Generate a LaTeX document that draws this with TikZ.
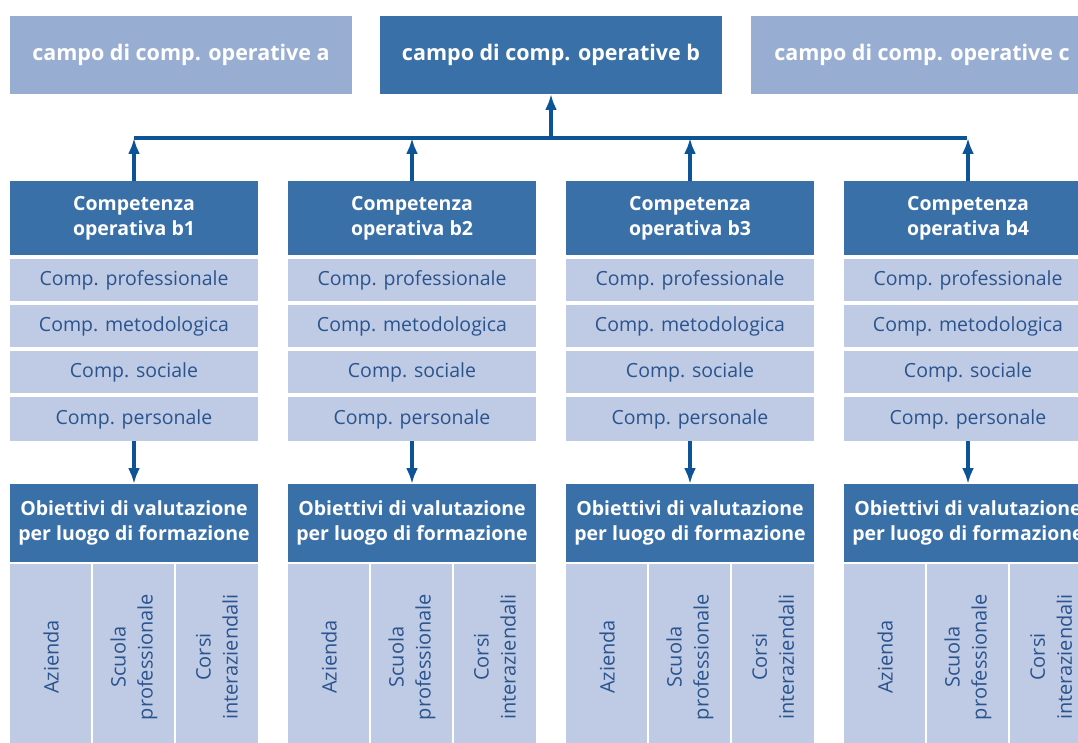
\documentclass[tikz,border=0pt]{standalone}
\usepackage{fontspec}
\setmainfont{Open Sans}
\usetikzlibrary{arrows.meta}
\definecolor{darkbox}{RGB}{58,112,168}
\definecolor{lightbox}{RGB}{152,173,210}
\definecolor{paleblue}{RGB}{191,202,228}
\definecolor{textblue}{RGB}{42,84,142}
\definecolor{arrowblue}{RGB}{12,84,150}
\tikzset{
  box/.style={inner sep=0pt, outer sep=0pt, anchor=north west, align=center},
  topdark/.style={box, fill=darkbox, text=white, font=\bfseries\fontsize{21.5}{26}\selectfont, minimum width=342pt, minimum height=78pt},
  toplight/.style={topdark, fill=lightbox},
  headbox/.style={box, fill=darkbox, text=white, font=\bfseries\fontsize{19.5}{25}\selectfont, minimum width=248pt, minimum height=74pt},
  subbox/.style={box, fill=paleblue, text=textblue, font=\fontsize{19.5}{24}\selectfont, minimum width=248pt, minimum height=42pt},
  placebox/.style={box, fill=paleblue, minimum height=200pt},
  rottext/.style={inner sep=0pt, rotate=90, text=textblue, font=\fontsize{20}{27}\selectfont, align=center},
  conn/.style={draw=arrowblue, line width=3.2pt},
  arr/.style={conn, -{Latex[length=16pt,width=12pt]}}
}
\begin{document}
\begin{tikzpicture}[x=1pt,y=-1pt]
\useasboundingbox (0,0) rectangle (1078,743);
\clip (0,0) rectangle (1078,743);
\node[toplight] (fa) at (10,16) {campo di comp. operative a};
\node[topdark] (fb) at (380,16) {campo di comp. operative b};
\node[toplight] (fc) at (751,16) {campo di comp. operative c};
\coordinate (busL) at (134,138);
\coordinate (busR) at (967,138);
\draw[conn] (busL) -- (busR);
\draw[arr] (fb.south |- busL) -- (fb.south);
\foreach \i in {1,2,3,4} {
  \pgfmathsetmacro{\xx}{10+278*(\i-1)}
  \node[headbox] (comp\i) at (\xx,181) {Competenza\\operativa b\i};
  \node[subbox] (prof\i) at (\xx,259) {Comp. professionale};
  \node[subbox] (meto\i) at (\xx,305) {Comp. metodologica};
  \node[subbox] (soc\i) at (\xx,351) {Comp. sociale};
  \node[subbox, minimum height=44pt] (pers\i) at (\xx,397) {Comp. personale};
  \node[headbox, minimum height=78pt] (obj\i) at (\xx,484) {Obiettivi di valutazione\\per luogo di formazione};
  \node[placebox, minimum width=81pt] (az\i) at (\xx,564) {};
  \node[placebox, minimum width=81pt] (sc\i) at (\xx+83,564) {};
  \node[placebox, minimum width=82pt] (co\i) at (\xx+166,564) {};
  \node[rottext] (aztxt\i) at (\xx+41,657) {Azienda};
  \node[rottext] (sctxt\i) at (\xx+124,657) {Scuola\\professionale};
  \node[rottext] (cotxt\i) at (\xx+207,657) {Corsi\\interaziendali};
  \draw[arr] (comp\i.north) -- (comp\i.north |- busL);
  \draw[arr] (pers\i.south) -- (obj\i.north);
}
\end{tikzpicture}
\end{document}
